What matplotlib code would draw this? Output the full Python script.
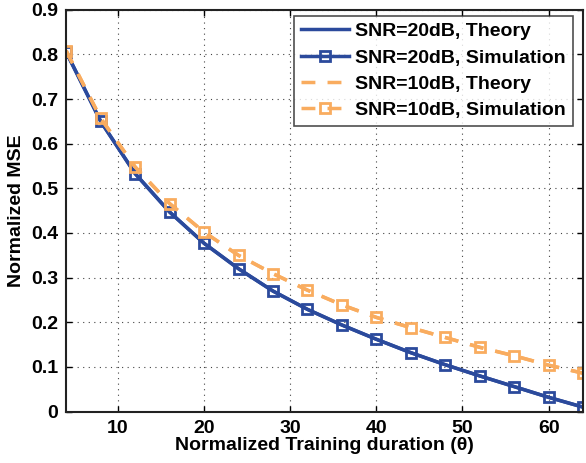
import numpy as np
import matplotlib
matplotlib.use('Agg')
import matplotlib.pyplot as plt

plt.rcParams['font.family'] = ['Liberation Sans', 'DejaVu Sans']
plt.rcParams['font.weight'] = 'bold'

theta = [4, 8, 12, 16, 20, 24, 28, 32, 36, 40, 44, 48, 52, 56, 60, 64]
mse_20_theory = [0.805, 0.650, 0.533, 0.447, 0.377, 0.320, 0.270, 0.229, 0.194, 0.162, 0.132, 0.105, 0.080, 0.056, 0.032, 0.010]
mse_20_sim = [0.805, 0.650, 0.533, 0.447, 0.377, 0.320, 0.270, 0.229, 0.194, 0.162, 0.132, 0.105, 0.080, 0.056, 0.032, 0.010]
mse_10_theory = [0.808, 0.657, 0.548, 0.466, 0.402, 0.350, 0.309, 0.272, 0.239, 0.211, 0.188, 0.166, 0.144, 0.125, 0.104, 0.086]
mse_10_sim = [0.808, 0.657, 0.548, 0.466, 0.402, 0.350, 0.309, 0.272, 0.239, 0.211, 0.188, 0.166, 0.144, 0.125, 0.104, 0.086]

blue = '#2b4a9c'
orange = '#f9ac5f'

fig = plt.figure(figsize=(5.86, 4.63), dpi=100)
ax = fig.add_axes([0.113, 0.111, 0.882, 0.868])

ax.plot(theta, mse_20_theory, '-', color=blue, lw=2.5, label='SNR=20dB, Theory')
ax.plot(theta, mse_20_sim, '-s', color=blue, lw=2.5, ms=7, mfc='none', mew=2,
        label='SNR=20dB, Simulation')
ax.plot(theta, mse_10_theory, '--', color=orange, lw=2.5, dashes=(4, 3.5), label='SNR=10dB, Theory')
ax.plot(theta, mse_10_sim, '--s', color=orange, lw=2.5, dashes=(4, 3.5), ms=7, mfc='none', mew=2,
        label='SNR=10dB, Simulation')

ax.set_xlim(4, 64)
ax.set_ylim(0, 0.9)
ax.set_xticks([10, 20, 30, 40, 50, 60])
ax.set_yticks(np.arange(0, 0.91, 0.1))
ax.set_yticklabels(['0', '0.1', '0.2', '0.3', '0.4', '0.5', '0.6', '0.7', '0.8', '0.9'])
ax.grid(True, linestyle=(0, (1, 4)), color='#444444', lw=0.8)
ax.tick_params(direction='in', labelsize=14, top=True, right=True, length=4, width=1, pad=6)
for s in ax.spines.values():
    s.set_linewidth(1.5)
    s.set_color('#222222')

ax.set_xlabel('Normalized Training duration (\u03b8)', fontsize=14, fontweight='bold', labelpad=0)
ax.set_ylabel('Normalized MSE', fontsize=14, fontweight='bold', labelpad=4)

leg = ax.legend(loc='upper right', fontsize=14, frameon=True, fancybox=False,
                handlelength=2.5, borderpad=0.35, labelspacing=0.45, handletextpad=0.3,
                borderaxespad=0, bbox_to_anchor=(0.98, 0.985))
leg.get_frame().set_edgecolor('#222222')
leg.get_frame().set_linewidth(1.2)

fig.savefig('out.png', dpi=100)
